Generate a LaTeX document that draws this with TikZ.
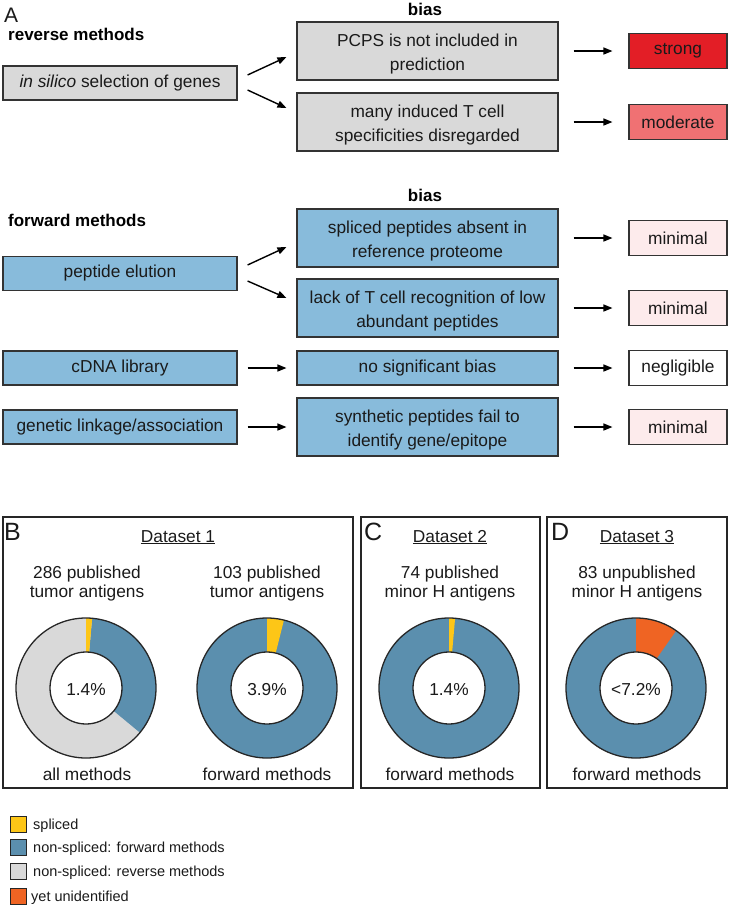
\documentclass[tikz,border=0pt]{standalone}
\usepackage{fontspec}
\setmainfont{Liberation Sans}
\usetikzlibrary{arrows.meta,calc}
\definecolor{gbox}{HTML}{D9D9D9}
\definecolor{bbox}{HTML}{88BBDB}
\definecolor{dblue}{HTML}{5B8FAE}
\definecolor{ylw}{HTML}{FDC617}
\definecolor{org}{HTML}{EF6423}
\definecolor{strongc}{HTML}{E31E26}
\definecolor{modc}{HTML}{F07173}
\definecolor{minc}{HTML}{FDEBEC}
\definecolor{dgrey}{HTML}{D9D9D9}
\definecolor{txt}{HTML}{1A1A1A}
\newcommand\tstrut{\rule{0pt}{19pt}}
\newcommand\bstrut{\rule[-4pt]{0pt}{4pt}}
\tikzset{
  base/.style={draw=black!80, line width=1.1pt, align=center, inner sep=0pt, text=txt,
    font=\fontsize{17.3}{24}\selectfont},
  lbox/.style={base, minimum width=234pt, minimum height=34pt},
  mbox/.style={base, minimum width=261pt, minimum height=58pt},
  mboxs/.style={base, minimum width=261pt, minimum height=34pt},
  rbox/.style={base, minimum width=98pt, minimum height=35pt},
  arr/.style={-{Triangle[length=9pt,width=7pt]}, line width=1.4pt},
  headb/.style={font=\fontsize{17}{20}\selectfont\bfseries, inner sep=0pt, text=black},
  lab/.style={font=\fontsize{17.3}{20}\selectfont, inner sep=0pt, text=txt},
  panlet/.style={font=\fontsize{25}{25}\selectfont, inner sep=0pt, anchor=base west, text=txt},
  panel/.style={draw=black!85, line width=1.2pt, minimum height=271pt, inner sep=0pt},
  ring/.style={draw=black!85, line width=1.3pt},
  legsq/.style={draw=black!85, line width=1pt, minimum size=16pt, inner sep=0pt},
  legtx/.style={font=\fontsize{14.5}{16}\selectfont, inner sep=0pt, anchor=base west, text=txt},
}
\begin{document}
\begin{tikzpicture}[x=1pt,y=-1pt]
\useasboundingbox (0,0) rectangle (730,908);
% ---------- Panel A: reverse methods
\node[font=\fontsize{21}{21}\selectfont, inner sep=0pt, anchor=base west, text=txt] (lA) at (4,22) {A};
\node[headb, anchor=base west] (revh) at (8,40) {reverse methods};
\node[headb, anchor=base] (bias1) at (425,15) {bias};
\node[lbox, fill=gbox] (rev) at (120,83) {\textit{in silico} selection of genes};
\node[mbox, fill=gbox] (pcps) at (427.5,51) {\tstrut PCPS is not included in\\prediction\bstrut};
\node[mbox, fill=gbox] (ind) at (427.5,122) {\tstrut many induced T cell\\specificities disregarded\bstrut};
\node[rbox, fill=strongc] (str) at (678,51) {strong};
\node[rbox, fill=modc] (mod) at (678,122) {moderate};
\draw[arr] ($(rev.east)+(10,-8)$) -- ($(pcps.west)+(-10,6)$);
\draw[arr] ($(rev.east)+(10,7)$) -- ($(ind.west)+(-10,-14)$);
\draw[arr, shorten <=15pt, shorten >=16pt] (pcps.east) -- (pcps.east -| str.west);
\draw[arr, shorten <=15pt, shorten >=16pt] (ind.east) -- (ind.east -| mod.west);
% ---------- forward methods
\node[headb, anchor=base west] (fwdh) at (8,226) {forward methods};
\node[headb, anchor=base] (bias2) at (425,201) {bias};
\node[lbox, fill=bbox] (pe) at (120,273.5) {peptide elution};
\node[lbox, fill=bbox] (cdna) at (120,368) {cDNA library};
\node[lbox, fill=bbox] (gen) at (120,427) {genetic linkage/association};
\node[mbox, fill=bbox] (spl) at (427.5,238) {\tstrut spliced peptides absent in\\reference proteome\bstrut};
\node[mbox, fill=bbox] (lack) at (427.5,308) {\tstrut lack of T cell recognition of low\\abundant peptides\bstrut};
\node[mboxs, fill=bbox] (nos) at (427.5,368) {no significant bias};
\node[mbox, fill=bbox] (syn) at (427.5,427) {\tstrut synthetic peptides fail to\\identify gene/epitope\bstrut};
\node[rbox, fill=minc] (m1) at (678,238) {minimal};
\node[rbox, fill=minc] (m2) at (678,308) {minimal};
\node[rbox, fill=white] (neg) at (678,368) {negligible};
\node[rbox, fill=minc] (m3) at (678,427) {minimal};
\draw[arr] ($(pe.east)+(10,-8.5)$) -- ($(spl.west)+(-10,9)$);
\draw[arr] ($(pe.east)+(10,7.5)$) -- ($(lack.west)+(-10,-10)$);
\draw[arr, shorten <=10pt, shorten >=10pt] (cdna.east) -- (nos.west);
\draw[arr, shorten <=10pt, shorten >=10pt] (gen.east) -- (syn.west);
\draw[arr, shorten <=15pt, shorten >=16pt] (spl.east) -- (spl.east -| m1.west);
\draw[arr, shorten <=15pt, shorten >=16pt] (lack.east) -- (lack.east -| m2.west);
\draw[arr, shorten <=15pt, shorten >=16pt] (nos.east) -- (nos.east -| neg.west);
\draw[arr, shorten <=15pt, shorten >=16pt] (syn.east) -- (syn.east -| m3.west);
% ---------- Panels B, C, D
\node[panel, minimum width=350pt] (pB) at (178,652.5) {};
\node[panel, minimum width=179pt] (pC) at (450.5,652.5) {};
\node[panel, minimum width=180pt] (pD) at (637,652.5) {};
\node[panlet] (lB) at (4,540) {B};
\node[panlet] (lC) at (364,540) {C};
\node[panlet] (lD) at (551,540) {D};
\node[lab, anchor=base] (ds1) at (178,542) {\underline{Dataset 1}};
\node[lab, anchor=base] (ds2) at (450,542) {\underline{Dataset 2}};
\node[lab, anchor=base] (ds3) at (637,542) {\underline{Dataset 3}};
% titles
\node[lab, anchor=base] (t1a) at (87,578) {286 published};
\node[lab, anchor=base] (t1b) at (87,597) {tumor antigens};
\node[lab, anchor=base] (t2a) at (267,578) {103 published};
\node[lab, anchor=base] (t2b) at (267,597) {tumor antigens};
\node[lab, anchor=base] (t3a) at (450,578) {74 published};
\node[lab, anchor=base] (t3b) at (450,597) {minor H antigens};
\node[lab, anchor=base] (t4a) at (637,578) {83 unpublished};
\node[lab, anchor=base] (t4b) at (637,597) {minor H antigens};
\node[lab, anchor=base] (b1) at (87,780) {all methods};
\node[lab, anchor=base] (b2) at (267,780) {forward methods};
\node[lab, anchor=base] (b3) at (450,780) {forward methods};
\node[lab, anchor=base] (b4) at (637,780) {forward methods};
% donut 1
\begin{scope}[shift={(86,688)}, y=1pt]
  \fill[dgrey] (0,0) circle (70pt);
  \fill[dblue] (0,0) -- (84.96:70pt) arc[start angle=84.96, end angle=-39.6, radius=70pt] -- cycle;
  \fill[ylw] (0,0) -- (90:70pt) arc[start angle=90, end angle=84.96, radius=70pt] -- cycle;
  \draw[ring, fill=white] (0,0) circle (36pt);
  \draw[ring] (0,0) circle (70pt);
\end{scope}
% donut 2
\begin{scope}[shift={(267,688)}, y=1pt]
  \fill[dblue] (0,0) circle (70pt);
  \fill[ylw] (0,0) -- (90:70pt) arc[start angle=90, end angle=76, radius=70pt] -- cycle;
  \draw[ring, fill=white] (0,0) circle (36pt);
  \draw[ring] (0,0) circle (70pt);
\end{scope}
% donut 3
\begin{scope}[shift={(449,688)}, y=1pt]
  \fill[dblue] (0,0) circle (70pt);
  \fill[ylw] (0,0) -- (90:70pt) arc[start angle=90, end angle=85, radius=70pt] -- cycle;
  \draw[ring, fill=white] (0,0) circle (36pt);
  \draw[ring] (0,0) circle (70pt);
\end{scope}
% donut 4
\begin{scope}[shift={(636,688)}, y=1pt]
  \fill[dblue] (0,0) circle (70pt);
  \fill[org] (0,0) -- (90:70pt) arc[start angle=90, end angle=55, radius=70pt] -- cycle;
  \draw[ring, fill=white] (0,0) circle (36pt);
  \draw[ring] (0,0) circle (70pt);
\end{scope}
\node[lab] (c1) at (86,690) {1.4\%};
\node[lab] (c2) at (267,690) {3.9\%};
\node[lab] (c3) at (449,690) {1.4\%};
\node[lab] (c4) at (636,690) {<7.2\%};
% ---------- legend
\node[legsq, fill=ylw] (q1) at (18,824.5) {};
\node[legsq, fill=dblue] (q2) at (18,847.5) {};
\node[legsq, fill=dgrey] (q3) at (18,871.5) {};
\node[legsq, fill=org] (q4) at (18,896.5) {};
\node[legtx] (e1) at (33,829) {spliced};
\node[legtx] (e2) at (33,852) {non-spliced: forward methods};
\node[legtx] (e3) at (33,876) {non-spliced: reverse methods};
\node[legtx] (e4) at (31,901) {yet unidentified};
\end{tikzpicture}
\end{document}
